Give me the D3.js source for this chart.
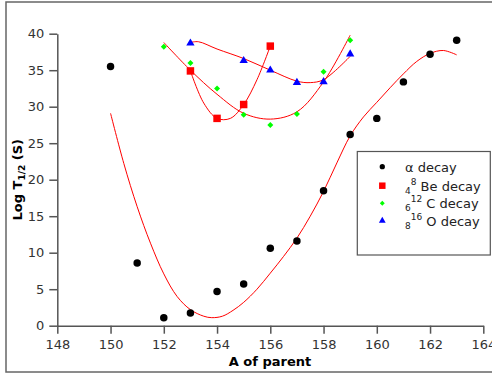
<!DOCTYPE html>
<html><head><meta charset="utf-8">
<script src="https://cdn.jsdelivr.net/npm/d3@7"></script>
<style>body{margin:0;background:#fff}svg{display:block}text{font-family:"DejaVu Sans",sans-serif}</style>
</head><body><div id="chart"></div>
<script>
// Data
const alphaA = [150,151,152,153,154,155,156,157,158,159,160,161,162,163];
const alphaT = [35.5,8.6,1.1,1.75,4.7,5.7,10.6,11.6,18.5,26.2,28.4,33.4,37.2,39.1];
const alphaFitA = [150,150.5,151,151.5,152,152.5,153,153.5,153.8,154.2,154.6,155,155.5,156,156.5,157,157.5,158,158.5,159,159.5,160,160.5,161,161.5,162,162.5,163];
const alphaFitT = [29.1,22.2,16.3,11.3,7.1,4.0,2.2,1.3,1.1,1.3,2.1,3.2,5.0,7.2,9.5,12.0,15.0,18.4,22.3,26.0,28.6,30.6,32.6,34.5,36.2,37.3,37.7,37.1];

const beA = [153,154,155,156];
const beT = [34.9,28.4,30.3,38.3];
const beFitA = [153,153.5,154,154.5,155,155.5,156];
const beFitT = [34.9,30.5,28.4,28.4,30.3,33.7,38.3];

const cA = [152,153,154,155,156,157,158,159];
const cT = [38.2,36.0,32.5,28.9,27.5,29.0,34.8,39.1];
const cFitA = [152,153,154,155,156,157,158,159];
const cFitT = [38.8,35.0,31.7,29.1,28.3,29.3,33.4,39.8];

const oA = [153,155,156,157,158,159];
const oT = [38.7,36.3,35.0,33.3,33.4,37.2];
const oFitA = [153,153.3,154,155,156,157,157.5,158,159];
const oFitT = [38.8,38.9,37.9,36.6,35.0,33.5,33.3,33.7,36.9];

const xTicks = [148,150,152,154,156,158,160,162,164];
const yTicks = [0,5,10,15,20,25,30,35,40];

const W = 492, H = 374;
const svg = d3.select("#chart").append("svg").attr("width", W).attr("height", H);

// outer frame
svg.append("rect").attr("x",6).attr("y",2).attr("width",520).attr("height",370)
  .attr("fill","none").attr("stroke","#666").attr("stroke-width",1.5);

const x = d3.scaleLinear().domain([148,164]).range([57.3,483.3]);
const y = d3.scaleLinear().domain([0,40]).range([325.7,33.7]);

const xAxis = svg.append("g").attr("transform","translate(0,325.7)")
  .call(d3.axisBottom(x).tickValues(xTicks).tickSize(8).tickPadding(6).tickSizeOuter(0));
const yAxis = svg.append("g").attr("transform","translate(57.3,0)")
  .call(d3.axisLeft(y).tickValues(yTicks).tickSize(8).tickPadding(5).tickSizeOuter(0));
[xAxis,yAxis].forEach(g=>{
  g.select(".domain").attr("stroke","#555").attr("stroke-width",1.5);
  g.selectAll(".tick line").attr("stroke","#555").attr("stroke-width",1.5);
  g.selectAll(".tick text").attr("fill","#333").style("font-size","13px")
   .style("font-family","'DejaVu Sans',sans-serif");
});

// axis labels
svg.append("text").attr("x",270).attr("y",366).attr("text-anchor","middle")
  .style("font-weight","bold").style("font-size","13px").text("A of parent");
const yl = svg.append("text").attr("transform","translate(22,179.7) rotate(-90)")
  .attr("text-anchor","middle").style("font-weight","bold").style("font-size","13px");
yl.append("tspan").text("Log T");
yl.append("tspan").attr("dy",3).style("font-size","9px").text("1/2");
yl.append("tspan").attr("dy",-3).text(" (S)");

// fit lines
const line = d3.line().x(d=>x(d[0])).y(d=>y(d[1])).curve(d3.curveCatmullRom.alpha(0.5));
const fits = [[alphaFitA,alphaFitT],[beFitA,beFitT],[cFitA,cFitT],[oFitA,oFitT]];
fits.forEach(([a,t])=>{
  svg.append("path").datum(a.map((v,i)=>[v,t[i]])).attr("d",line)
    .attr("fill","none").attr("stroke","#f00").attr("stroke-width",1);
});

// markers
const sym = {
  circle: d3.symbol().type(d3.symbolCircle).size(44),
  square: d3.symbol().type(d3.symbolSquare).size(56),
  diamond: d3.symbol().type(d3.symbolSquare).size(18),
  triangle: d3.symbol().type(d3.symbolTriangle).size(30)
};
function pts(a,t,s,col,rot){
  svg.append("g").selectAll("path").data(a.map((v,i)=>[v,t[i]])).join("path")
    .attr("transform",d=>`translate(${x(d[0])},${y(d[1])})` + (rot?` rotate(${rot})`:""))
    .attr("d",s).attr("fill",col);
}
pts(cA,cT,sym.diamond,"#00ff00",45);
pts(beA,beT,sym.square,"#ff0000");
pts(oA,oT,sym.triangle,"#0000ff");
pts(alphaA,alphaT,sym.circle,"#000");

// legend
svg.append("rect").attr("x",357.3).attr("y",151.5).attr("width",133).attr("height",103.5)
  .attr("fill","#fff").attr("stroke","#555").attr("stroke-width",1.2);
const legRows = [
  {c:"#000", y:166.7, sub:null, sup:null, t:"α decay"},
  {c:"#ff0000", y:185.7, sub:"4", sup:"8", t:" Be decay"},
  {c:"#00ff00", y:203.3, sub:"6", sup:"12", t:" C decay"},
  {c:"#0000ff", y:220.7, sub:"8", sup:"16", t:" O decay"}
];
const legSym = [d3.symbol().type(d3.symbolCircle).size(22), d3.symbol().type(d3.symbolSquare).size(42),
  d3.symbol().type(d3.symbolSquare).size(12), d3.symbol().type(d3.symbolTriangle).size(20)];
legRows.forEach((r,i)=>{
  svg.append("path").attr("transform",`translate(382.3,${r.y})` + (i===2?" rotate(45)":"")).attr("d",legSym[i]).attr("fill",r.c);
  const tx = svg.append("text").attr("x",405).attr("y",r.y+5).style("font-size","13px").attr("fill","#222");
  if(r.sub){
    tx.append("tspan").attr("dy",3).style("font-size","9px").text(r.sub);
    tx.append("tspan").attr("dy",-9).style("font-size","9px").text(r.sup);
    tx.append("tspan").attr("dy",6).text(r.t);
  } else tx.append("tspan").text(r.t);
});
</script></body></html>
